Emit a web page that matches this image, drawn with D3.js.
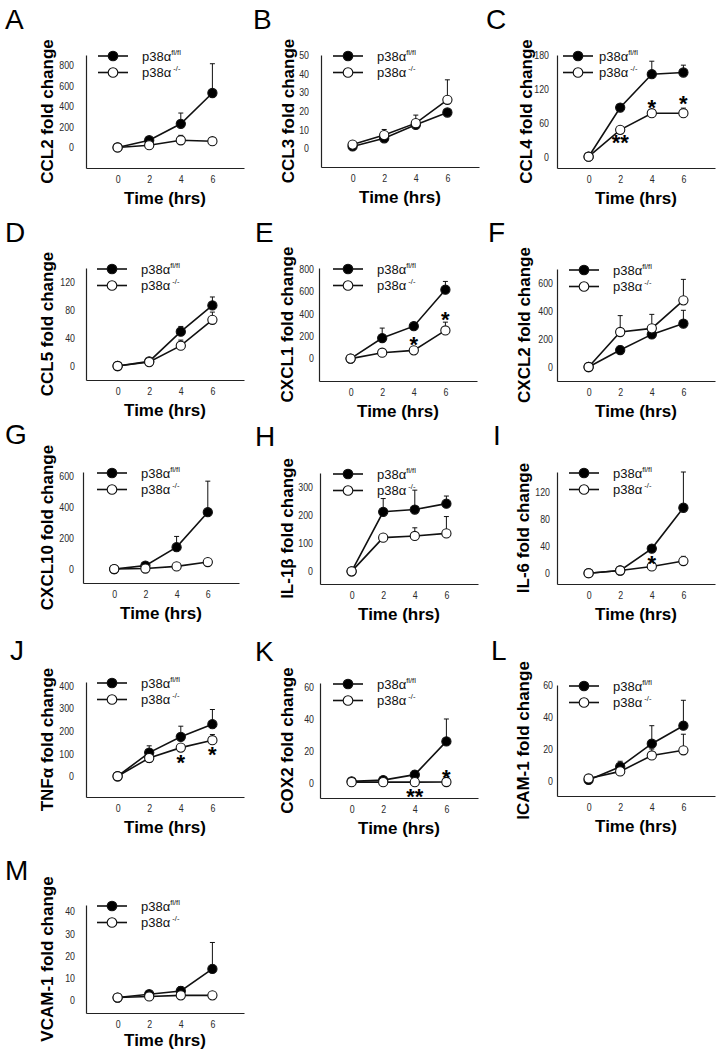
<!DOCTYPE html>
<html><head><meta charset="utf-8">
<script src="https://cdn.jsdelivr.net/npm/d3@7"></script>
<style>
html,body{margin:0;padding:0;background:#fff;}
svg{display:block;font-family:"Liberation Sans",Arial,sans-serif;}
</style></head>
<body>
<svg id="chart" width="722" height="1049"></svg>
<script>
// ---------- data ----------
const times = [0, 2, 4, 6];
const xTickValues = [0, 2, 4, 6];
const panelLetters = ["A","B","C","D","E","F","G","H","I","J","K","L","M"];
const yLabels = ["CCL2 fold change","CCL3 fold change","CCL4 fold change","CCL5 fold change",
  "CXCL1 fold change","CXCL2 fold change","CXCL10 fold change","IL-1β fold change",
  "IL-6 fold change","TNFα fold change","COX2 fold change","ICAM-1 fold change","VCAM-1 fold change"];
const seriesNames = ["p38α", "p38α"];
const seriesSups = ["fl/fl", " -/-"];
const xLabel = "Time (hrs)";

// means and upper error (SE) per panel: floxed (filled) and knockout (open)
const ccl2Fl = [0, 70, 230, 530],     ccl2FlErr = [0, 12, 105, 285];
const ccl2Ko = [0, 22, 70, 61],       ccl2KoErr = [0, 5, 48, 5];
const ccl3Fl = [1, 5.4, 12.6, 19.2],  ccl3FlErr = [0.3, 0.5, 1, 1];
const ccl3Ko = [2, 7.1, 13.5, 26],    ccl3KoErr = [0.5, 3, 4.3, 10.7];
const ccl4Fl = [0, 87, 146, 149],     ccl4FlErr = [0, 2, 23, 13];
const ccl4Ko = [0, 47.5, 77, 77],     ccl4KoErr = [0, 1, 1, 9];
const ccl5Fl = [0, 6.6, 49, 86.6],    ccl5FlErr = [0, 1, 7.5, 12];
const ccl5Ko = [0, 5.6, 29, 66],      ccl5KoErr = [0, 0.5, 8, 11];
const cxcl1Fl = [0, 184, 290, 616],   cxcl1FlErr = [0, 89, 5, 74];
const cxcl1Ko = [0, 53, 74, 252],     cxcl1KoErr = [0, 3, 5, 74];
const cxcl2Fl = [0, 121, 233, 310],   cxcl2FlErr = [0, 29, 5, 95];
const cxcl2Ko = [0, 250, 276, 476],   cxcl2KoErr = [0, 117, 100, 150];
const cxcl10Fl = [0, 22, 141, 366],   cxcl10FlErr = [0, 5, 69, 200];
const cxcl10Ko = [0, 3, 17, 45],      cxcl10KoErr = [0, 1, 3, 5];
const il1bFl = [0, 212, 220, 241],    il1bFlErr = [0, 47, 69, 27];
const il1bKo = [0, 120, 126, 135],    il1bKoErr = [0, 3, 29, 60];
const il6Fl = [0, 4, 36.5, 97],       il6FlErr = [0, 0.5, 1, 53];
const il6Ko = [0, 4, 10, 18],         il6KoErr = [0, 0.5, 1, 7];
const tnfFl = [0, 105, 175, 231],     tnfFlErr = [0, 30, 47, 65];
const tnfKo = [0, 81, 127, 160],      tnfKoErr = [0, 3, 3, 25];
const cox2Fl = [1, 1.8, 5.2, 26],     cox2FlErr = [0.3, 0.3, 2.3, 14];
const cox2Ko = [0.5, 0.5, 0.5, 0.6],  cox2KoErr = [0, 0, 0, 0];
const icamFl = [1, 9.2, 23.5, 34.7],  icamFlErr = [0.3, 3.4, 11.2, 15.8];
const icamKo = [1.9, 6.3, 16.2, 19.4],icamKoErr = [0.3, 0.5, 4, 10];
const vcamFl = [1, 2.5, 4, 14],       vcamFlErr = [0.3, 0.5, 2, 12];
const vcamKo = [1, 1.5, 2, 2],        vcamKoErr = [0.2, 0.3, 0.5, 0.5];

// y axis domains and tick labels
const yDomains = [[-200,900],[-10,50],[-20,180],[-20,140],[-200,810],[-100,700],
  [-90,625],[-45,350],[-16,150],[-92,418],[-9.4,62.5],[-9,60],[-6,43]];
const yTicks = [[0,200,400,600,800],[0,10,20,30,40,50],[0,60,120,180],[0,40,80,120],
  [0,200,400,600,800],[0,200,400,600],[0,200,400,600],[0,100,200,300],[0,40,80,120],
  [0,100,200,300,400],[0,20,40,60],[0,20,40,60],[0,10,20,30,40]];

// significance marks: panel index, time, y value, text
const sigPanels = [2, 2, 2, 4, 4, 8, 9, 9, 10, 10];
const sigTimes  = [4, 6, 2, 4, 6, 4, 4, 6, 6, 4];
const sigValues = [95, 102, 33, 166, 390, 21, 81, 116, 6.4, -5.6];
const sigTexts  = ["*", "*", "**", "*", "*", "*", "*", "*", "*", "**"];

// ---------- layout (pixels) ----------
const layout = [
  {left:86, top:55, bottom:168, w:158, lx:5, ly:29, yl:47, lgx:27, tp:12},
  {left:321, top:55, bottom:167, w:158, lx:253, ly:29, yl:288, lgx:27, tp:12},
  {left:557, top:55, bottom:168, w:158, lx:486, ly:29, yl:526, lgx:21, ltx:42, tp:8},
  {left:86, top:268, bottom:380, w:158, lx:5, ly:242, yl:47, lgx:26, tp:11},
  {left:319, top:268, bottom:381, w:158, lx:255, ly:242, yl:287, lgx:29, tp:5},
  {left:557, top:269, bottom:381, w:158, lx:488, ly:242, yl:524, lgx:27, tp:4},
  {left:83, top:472, bottom:583, w:156, lx:5, ly:444, yl:47, lgx:29, tp:9},
  {left:320, top:473, bottom:584, w:158, lx:255, ly:446, yl:287, lgx:28, tp:7},
  {left:557, top:472, bottom:584, w:158, lx:493, ly:445, yl:523, lgx:27, tp:7},
  {left:86, top:682, bottom:797, w:158, lx:10, ly:660, yl:47, lgx:26, tp:12},
  {left:320, top:683, bottom:798, w:158, lx:255, ly:661, yl:287, lgx:28, tp:6},
  {left:557, top:685, bottom:796, w:158, lx:491, ly:660, yl:523, lgx:27, tp:4},
  {left:86, top:905, bottom:1013, w:158, lx:5, ly:880, yl:47, lgx:26, tp:11, tb:33}
];

const flMeans = [ccl2Fl, ccl3Fl, ccl4Fl, ccl5Fl, cxcl1Fl, cxcl2Fl, cxcl10Fl, il1bFl, il6Fl, tnfFl, cox2Fl, icamFl, vcamFl];
const flErrs  = [ccl2FlErr, ccl3FlErr, ccl4FlErr, ccl5FlErr, cxcl1FlErr, cxcl2FlErr, cxcl10FlErr, il1bFlErr, il6FlErr, tnfFlErr, cox2FlErr, icamFlErr, vcamFlErr];
const koMeans = [ccl2Ko, ccl3Ko, ccl4Ko, ccl5Ko, cxcl1Ko, cxcl2Ko, cxcl10Ko, il1bKo, il6Ko, tnfKo, cox2Ko, icamKo, vcamKo];
const koErrs  = [ccl2KoErr, ccl3KoErr, ccl4KoErr, ccl5KoErr, cxcl1KoErr, cxcl2KoErr, cxcl10KoErr, il1bKoErr, il6KoErr, tnfKoErr, cox2KoErr, icamKoErr, vcamKoErr];

const svg = d3.select("#chart");
const INK = "#111";
const SX = 0.84; // horizontal squeeze of the small tick numbers

layout.forEach((L, i) => {
  const g = svg.append("g");
  const x = d3.scaleLinear().domain([-2, 8]).range([L.left, L.left + L.w]);
  const y = d3.scaleLinear().domain(yDomains[i]).range([L.bottom, L.top]);

  // panel letter
  g.append("text").attr("x", L.lx).attr("y", L.ly)
    .attr("font-size", 28).attr("fill", "#000").text(panelLetters[i]);

  // axes
  const ya = g.append("g").attr("transform", `translate(${L.left},0)`)
    .call(d3.axisLeft(y).tickValues(yTicks[i]).tickSize(0).tickPadding(L.tp).tickSizeOuter(0));
  const xa = g.append("g").attr("transform", `translate(0,${L.bottom})`)
    .call(d3.axisBottom(x).tickValues(xTickValues).tickSize(0).tickPadding(8).tickSizeOuter(0));
  [ya, xa].forEach(a => {
    a.select(".domain").attr("stroke", "#222").attr("stroke-width", 1.2);
    a.selectAll("text").attr("font-size", 10.5).attr("fill", "#2a2a2a")
      .attr("font-family", '"Liberation Sans",Arial,sans-serif');
  });
  ya.selectAll("text").attr("x", -L.tp / SX).attr("transform", `scale(${SX},1)`);
  xa.selectAll("text").attr("transform", `scale(${SX},1)`);

  // axis titles
  g.append("text").attr("transform", `translate(${L.yl + 6},${(L.top + L.bottom) / 2}) rotate(-90)`)
    .attr("text-anchor", "middle")
    .attr("font-size", 17).attr("font-weight", "bold").attr("fill", "#000").text(yLabels[i]);
  g.append("text").attr("x", x(3)).attr("y", L.bottom + (L.tb || 36))
    .attr("text-anchor", "middle").attr("font-size", 17).attr("font-weight", "bold")
    .attr("fill", "#000").text(xLabel);

  // series
  const series = [
    {m: flMeans[i], e: flErrs[i], fill: "#000"},
    {m: koMeans[i], e: koErrs[i], fill: "#fff"}
  ];
  const line = d3.line().x((d, k) => x(times[k])).y(d => y(d));
  // error bars first
  series.forEach(s => {
    s.m.forEach((v, k) => {
      if (s.e[k] <= 0) return;
      const cx = x(times[k]), y0 = y(v), y1 = y(v + s.e[k]);
      g.append("line").attr("x1", cx).attr("x2", cx).attr("y1", y0).attr("y2", y1)
        .attr("stroke", INK).attr("stroke-width", 1);
      g.append("line").attr("x1", cx - 2.5).attr("x2", cx + 2.5).attr("y1", y1).attr("y2", y1)
        .attr("stroke", INK).attr("stroke-width", 1);
    });
  });
  series.forEach(s => {
    g.append("path").datum(s.m).attr("d", line).attr("fill", "none")
      .attr("stroke", INK).attr("stroke-width", 1.6);
  });
  series.forEach(s => {
    g.selectAll(null).data(s.m).enter().append("circle")
      .attr("cx", (d, k) => x(times[k])).attr("cy", d => y(d)).attr("r", 4.6)
      .attr("fill", s.fill).attr("stroke", INK).attr("stroke-width", 1.1);
  });

  // legend
  const dotX = L.left + L.lgx;
  const textX = L.left + (L.ltx || (L.lgx + 29));
  series.forEach((s, k) => {
    const ly = L.top + 1 + k * 16.5;
    g.append("line").attr("x1", dotX - 15).attr("x2", dotX + 15).attr("y1", ly).attr("y2", ly)
      .attr("stroke", INK).attr("stroke-width", 1.6);
    g.append("circle").attr("cx", dotX).attr("cy", ly).attr("r", 4.8)
      .attr("fill", s.fill).attr("stroke", INK).attr("stroke-width", 1.1);
    const t = g.append("text").attr("x", textX).attr("y", ly + 4.5)
      .attr("font-size", 13).attr("fill", "#111").text(seriesNames[k]);
    t.append("tspan").attr("font-size", 7.5).attr("dy", -6).text(seriesSups[k]);
  });

  // significance marks
  sigPanels.forEach((p, k) => {
    if (p !== i) return;
    g.append("text").attr("x", x(sigTimes[k])).attr("y", y(sigValues[k]) + 12)
      .attr("text-anchor", "middle").attr("font-size", 22).attr("font-weight", "bold")
      .attr("fill", "#000").text(sigTexts[k]);
  });
});
</script>
</body></html>
